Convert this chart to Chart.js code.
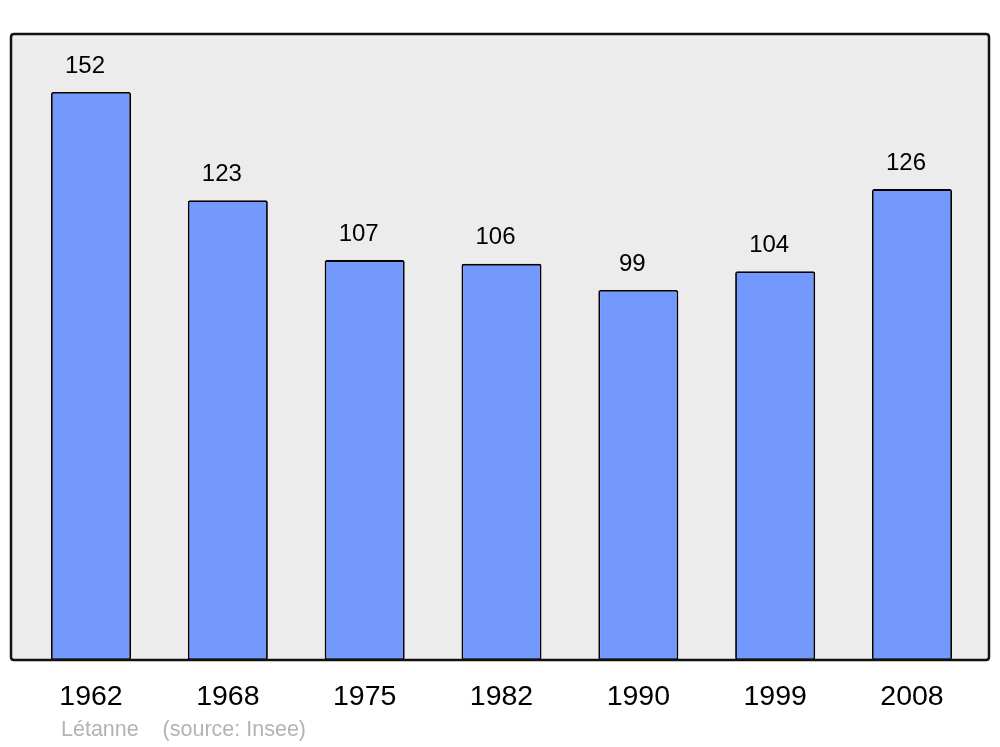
<!DOCTYPE html>
<html>
<head>
<meta charset="utf-8">
<script src="https://cdn.jsdelivr.net/npm/chart.js@4.4.0/dist/chart.umd.min.js"></script>
<style>
  html, body { margin: 0; padding: 0; background: #fff; }
  #wrap { width: 1000px; height: 747px; }
</style>
</head>
<body>
<div id="wrap"><canvas id="pop"></canvas></div>
<script>
var years = ['1962', '1968', '1975', '1982', '1990', '1999', '2008'];
var population = [152, 123, 107, 106, 99, 104, 126];
var sourceText = 'Létanne    (source: Insee)';

// gray framed panel behind the bars
var panelPlugin = {
    id: 'panel',
    beforeDatasetsDraw: function(chart) {
        var a = chart.chartArea, c = chart.ctx;
        c.save();
        roundRect(c, a.left - 11.6, a.top, a.right - a.left + 20.2, a.bottom - a.top, 3);
        c.fillStyle = '#ececec';
        c.fill();
        c.restore();
    },
    afterDatasetsDraw: function(chart) {
        var a = chart.chartArea, c = chart.ctx;
        c.save();
        roundRect(c, a.left - 11.6, a.top, a.right - a.left + 20.2, a.bottom - a.top, 3);
        c.lineWidth = 2.5;
        c.strokeStyle = '#111';
        c.stroke();

        // value labels over the bars
        var meta = chart.getDatasetMeta(0);
        c.fillStyle = '#000';
        c.font = '24px "Liberation Sans", Arial, sans-serif';
        c.textAlign = 'center';
        c.textBaseline = 'middle';
        meta.data.forEach(function(bar, i) {
            c.fillText(population[i], bar.x - 6, bar.y - 26);
        });

        // source line
        c.fillStyle = '#b3b3b3';
        c.font = '21.5px "Liberation Sans", Arial, sans-serif';
        c.textAlign = 'left';
        c.fillText(sourceText, 61, 730);
        c.restore();
    }
};

function roundRect(c, x, y, w, h, r) {
    c.beginPath();
    c.moveTo(x + r, y);
    c.lineTo(x + w - r, y);
    c.quadraticCurveTo(x + w, y, x + w, y + r);
    c.lineTo(x + w, y + h - r);
    c.quadraticCurveTo(x + w, y + h, x + w - r, y + h);
    c.lineTo(x + r, y + h);
    c.quadraticCurveTo(x, y + h, x, y + h - r);
    c.lineTo(x, y + r);
    c.quadraticCurveTo(x, y, x + r, y);
    c.closePath();
}

var ctx = document.getElementById('pop');
var popChart = new Chart(ctx, {
    type: 'bar',
    data: {
        labels: years,
        datasets: [
            {
                label: 'Population',
                data: population,
                backgroundColor: '#7399ff',
                borderColor: '#000',
                borderWidth: 1.8,
                borderRadius: 2,
                borderSkipped: false,
                barPercentage: 0.585,
                categoryPercentage: 1.0
            }
        ]
    },
    options: {
        responsive: true,
        maintainAspectRatio: false,
        animation: false,
        layout: {
            padding: { top: 34, left: 22.6, right: 19.6, bottom: 0 }
        },
        plugins: {
            legend: { display: false },
            tooltip: { enabled: false }
        },
        scales: {
            x: {
                grid: { display: false, drawTicks: false },
                border: { display: false },
                ticks: {
                    color: '#000',
                    padding: 20,
                    font: { family: '"Liberation Sans", Arial, sans-serif', size: 28.5 }
                },
                afterFit: function(s) { s.height = 87; }
            },
            y: {
                display: false,
                min: 0,
                max: 167.5
            }
        }
    },
    plugins: [panelPlugin]
});
</script>
</body>
</html>
